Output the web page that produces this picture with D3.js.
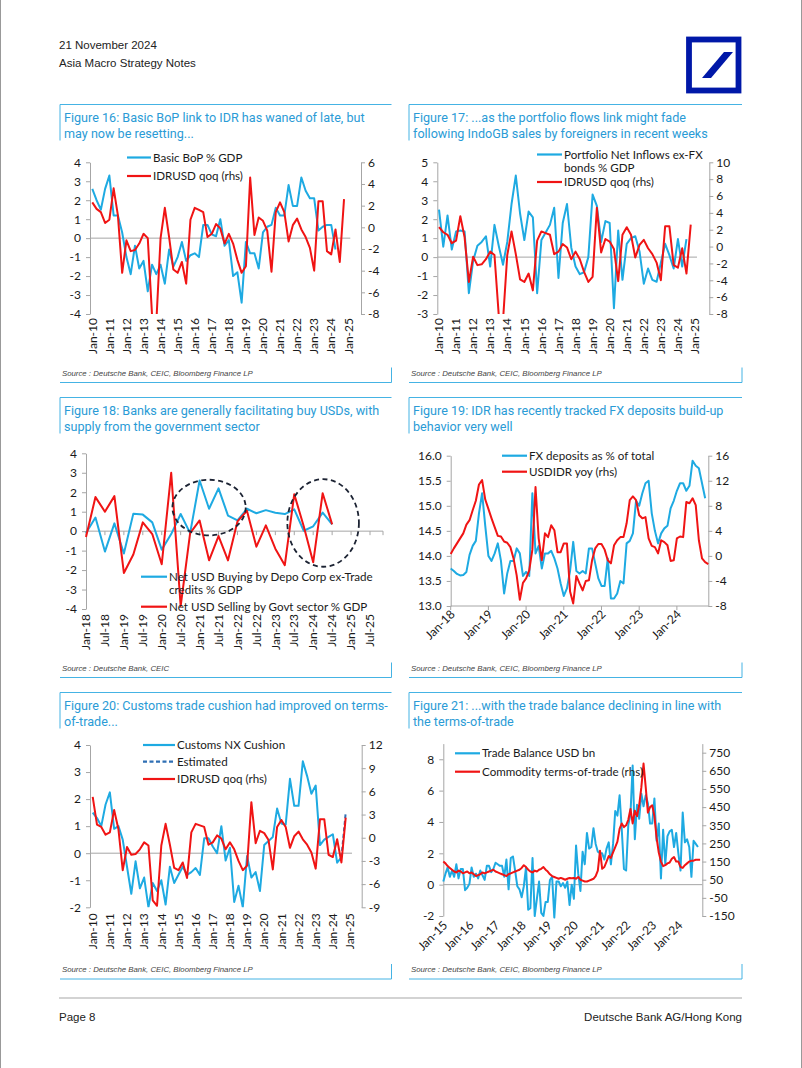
<!DOCTYPE html>
<html>
<head>
<meta charset="utf-8">
<script src="https://cdn.jsdelivr.net/npm/d3@7"></script>
<style>
  body { margin: 0; background: #fff; }
</style>
</head>
<body>
<svg id="page" width="802" height="1068"></svg>
<script>
// ---- data ----
const headerLines = ["21 November 2024", "Asia Macro Strategy Notes"];
const footerLeft = "Page 8";
const footerRight = "Deutsche Bank AG/Hong Kong";

const src1 = "Source : Deutsche Bank, CEIC, Bloomberg Finance LP";
const src2 = "Source : Deutsche Bank, CEIC";

const titles = {
  f16: ["Figure 16: Basic BoP link to IDR has waned of late, but", "may now be resetting..."],
  f17: ["Figure 17: ...as the portfolio flows link might fade", "following IndoGB sales by foreigners in recent weeks"],
  f18: ["Figure 18: Banks are generally facilitating buy USDs, with", "supply from the government sector"],
  f19: ["Figure 19: IDR has recently tracked FX deposits build-up", "behavior very well"],
  f20: ["Figure 20: Customs trade cushion had improved on terms-", "of-trade..."],
  f21: ["Figure 21: ...with the trade balance declining in line with", "the terms-of-trade"]
};

// quarterly x labels, 2010-2025
const xLabels1025 = ["Jan-10","Jan-11","Jan-12","Jan-13","Jan-14","Jan-15","Jan-16","Jan-17",
  "Jan-18","Jan-19","Jan-20","Jan-21","Jan-22","Jan-23","Jan-24","Jan-25"];
const xLabels18 = ["Jan-18","Jul-18","Jan-19","Jul-19","Jan-20","Jul-20","Jan-21","Jul-21",
  "Jan-22","Jul-22","Jan-23","Jul-23","Jan-24","Jul-24","Jan-25","Jul-25"];
const xLabels19 = ["Jan-18","Jan-19","Jan-20","Jan-21","Jan-22","Jan-23","Jan-24"];
const xLabels21 = ["Jan-15","Jan-16","Jan-17","Jan-18","Jan-19","Jan-20","Jan-21","Jan-22","Jan-23","Jan-24"];

// Fig 16: basic BoP % GDP (quarterly from Q1-10)
const basicBop = [2.6,2.0,1.5,2.6, 3.3,1.2,1.2,0.3, -1.0,-1.9,-0.4,-1.6, -1.2,-2.8,-1.4,-1.9,
  -1.4,-2.4,-0.6,-1.5, -1.0,-0.2,-1.2,-0.9, -0.8,-1.0,0.7,0.7, 0.2,0.1,1.0,-0.4,
  -0.1,-2.0,-1.8,-3.4, -0.2,-0.8,-0.8,-1.6, 0.3,0.6,0.7,1.6, 1.2,1.2,2.8,1.7,
  1.7,3.2,2.5,2.1, 2.1,0.4,0.6,0.7, 0.7,-0.6];
// IDRUSD qoq (rhs), quarterly from Q1-10
const idrQoq = [2.3,1.7,1.4,0.4, 0.7,3.6,1.1,-4.2, -1.2,-2.2,-2.1,-1.5, -0.6,-1.0,-8.1,-8.8,
  -1.0,1.8,-0.9,-3.9, -4.2,-3.2,-5.2,0.7, 1.8,1.6,1.4,-0.9, -0.6,0.3,-0.1,-1.5,
  -0.6,-1.5,-3.0,-4.2, -3.6,4.6,-0.7,0.9, 0.6,-0.3,-4.1,1.4, 2.3,1.4,-1.3,0.2,
  0.8,-0.2,-0.9,-1.9, -4.0,2.4,2.4,-2.2, -2.5,-0.2,-3.2,2.6];
const idrQoq20 = [5.3].concat(idrQoq.slice(1));

// Fig 17: portfolio net inflows ex-FX bonds % GDP
const portfolio = [2.5,0.55,2.2,0.4, 1.35,1.4,1.35,-1.9, -0.2,0.6,0.8,1.1, -0.5,1.7,0.6,-0.4,
  0.8,2.8,4.3,2.3, 0.9,2.4,2.1,-1.9, 0.9,1.3,1.7,2.6, -1.1,1.8,2.8,0.5,
  -0.5,-0.9,-0.8,0.0, 3.3,2.7,0.8,1.9, 1.8,-2.7,1.4,-1.2, 0.7,1.0,1.1,0.3,
  -1.4,-0.6,-1.2,-1.3, -0.3,0.7,0.1,-0.6, 0.95,-0.5,0.95];

// Fig 18: quarterly from Q1-18
const depoBuy = [-0.1,0.7,-1.05,0.4,-1.15,0.9,0.85,0.45,-0.95,-0.15,0.88,-0.1,2.6,1.15,2.2,0.8,
  0.55,1.15,0.92,1.08,0.95,0.88,1.12,0.02,0.25,0.95,0.35];
const govSell = [-0.3,1.75,1.0,1.8,-2.15,-1.2,0.45,-0.15,-1.7,3.0,-3.85,-0.1,0.55,-1.5,-0.25,-1.5,
  0.5,1.05,-0.8,0.3,-0.9,-1.75,1.9,0.25,-1.6,1.95,0.35];
// dashed ellipses: centre (quarter index, value), half widths
const fig18Rings = [{q: 13.0, v: 1.21, dq: 3.87, dv: 1.43}, {q: 25.05, v: 0.42, dq: 3.78, dv: 2.25}];

// Fig 19: monthly from Jan-18
const fxDepShare = [13.75,13.7,13.64,13.61,13.62,13.68,14.02,14.2,14.3,14.85,15.25,14.6,
  14.0,13.9,14.05,14.25,13.9,13.25,13.65,13.9,13.9,14.15,14.05,13.6,
  13.68,13.6,15.25,14.05,14.2,13.75,14.05,14.05,14.1,13.95,13.75,13.45,
  13.2,13.35,13.7,14.28,13.7,13.65,13.7,13.65,14.15,14.15,13.85,13.55,
  13.4,13.4,13.95,13.15,13.15,13.25,13.5,13.45,14.25,14.3,14.45,15.1,
  15.0,15.25,15.45,15.5,14.85,14.5,14.25,14.45,14.55,14.6,14.95,15.1,
  15.3,15.45,15.45,15.3,15.4,15.9,15.8,15.75,15.45,15.15];
const usdIdrYoy = [0.3,1.2,2.0,2.8,3.6,5.0,5.7,7.3,8.8,11.4,12.1,9.0,
  7.5,6.0,4.6,3.2,3.1,2.3,2.1,1.4,-0.4,-3.1,-7.0,-4.3,
  -3.6,-2.3,1.0,11.0,2.8,-0.7,3.6,3.0,4.9,4.1,0.6,0.6,
  2.0,2.0,-5.7,-7.6,-3.2,-4.4,-5.5,-4.0,-3.9,-0.7,1.2,1.9,
  1.9,1.0,-0.7,-1.2,1.7,2.5,3.0,3.0,5.2,8.9,9.5,8.9,
  6.5,6.0,6.2,2.8,1.6,1.4,0.4,2.5,2.2,1.7,-0.8,-0.7,
  2.8,3.1,3.0,8.6,8.4,9.2,8.1,2.5,-0.4,-1.0,-1.3];

// Fig 20: customs NX cushion, quarterly from Q1-10, plus estimate
const customsNx = [1.5,1.3,1.0,1.8, 2.25,0.9,1.0,0.5, -0.5,-1.5,-0.3,-1.3, -0.9,-2.0,-1.1,-1.4,
  -1.0,-1.9,-0.5,-1.1, -0.8,-0.5,-0.8,-0.7, -0.55,-0.8,0.55,0.55, 0.25,0.0,1.0,-0.27,
  0.2,-1.8,-1.2,-2.0, -0.1,-0.9,-0.7,-1.4, 0.3,0.45,0.6,1.65, 1.1,1.05,2.75,1.75,
  1.75,3.4,2.85,2.2, 2.5,0.3,0.5,0.6, 0.7,-0.35,-0.15];
const customsEstStart = 58;
const customsEst = [-0.15, 1.5];

// Fig 21: monthly from Jan-15
const tradeBal = [0.2,0.7,1.1,0.5,0.9,0.5,1.3,0.4,1.0,1.0,-0.35,-0.2,
  0.05,1.1,0.5,0.7,0.4,0.9,0.6,0.3,1.2,1.2,0.8,1.0,
  1.4,1.3,1.2,1.2,0.5,1.6,-0.3,1.7,1.8,0.9,-0.1,-0.3,
  -0.8,-0.1,1.1,-1.6,-1.5,1.7,-2.0,-0.9,0.2,-1.8,-2.0,-1.1,
  -1.1,0.3,0.5,-2.1,0.2,0.2,-0.1,0.1,-0.2,0.2,-1.3,0.0,
  -0.9,2.5,0.7,-0.4,2.1,1.3,3.3,2.3,2.4,3.6,2.6,2.1,
  2.0,2.0,1.6,2.3,2.7,1.3,2.6,4.7,4.4,5.7,3.5,1.0,
  0.9,3.8,4.5,7.6,2.9,5.1,4.2,5.8,5.0,5.7,5.2,3.9,
  3.9,5.5,2.8,3.9,0.4,3.5,1.3,3.1,3.4,3.5,2.4,3.3,
  2.0,0.9,4.6,2.7,2.9,2.4,0.5,2.8,2.6,2.4];
const commodityTot = [150,140,125,115,105,95,90,100,95,85,90,95,
  85,90,80,70,75,80,90,85,90,95,100,105,
  95,90,85,80,75,70,80,85,90,95,100,105,
  115,130,120,105,95,90,100,95,105,110,120,105,
  95,80,70,65,60,55,60,55,50,55,60,58,
  60,55,65,50,45,40,40,45,50,55,70,100,
  210,110,120,150,180,170,200,230,260,330,360,340,
  350,380,440,360,430,400,460,560,690,560,420,450,
  460,400,280,200,150,125,130,140,145,165,175,150,
  150,120,115,130,140,150,155,155,160,160,160];

// ---- styles ----
const BLUE = "#1eaae2", RED = "#f01414", EST = "#2f6fb4", AXIS = "#a6a6a6";
const TITLE = "#2a9bd6", FRAME = "#45b3e4";
const FONT = "Lato, 'Open Sans', sans-serif";
const TFONT = "Roboto, 'Liberation Sans', sans-serif";
const NFONT = "'Liberation Sans Narrow', 'Liberation Sans', sans-serif";

const svg = d3.select("#page");

// page edges
svg.append("line").attr("x1", 0.5).attr("x2", 0.5).attr("y1", 0).attr("y2", 1068).attr("stroke", "#999");
svg.append("line").attr("x1", 801.5).attr("x2", 801.5).attr("y1", 0).attr("y2", 1068).attr("stroke", "#999");

// header
headerLines.forEach((t, i) => {
  svg.append("text").attr("x", 59).attr("y", 49 + i * 18).attr("font-family", NFONT)
    .attr("font-size", 11.5).attr("fill", "#222").text(t);
});
// logo
svg.append("rect").attr("x", 689).attr("y", 39.5).attr("width", 49.5).attr("height", 51)
  .attr("fill", "none").attr("stroke", "#0018a8").attr("stroke-width", 5.8);
svg.append("polygon").attr("points", "724,52 733,52 711,78 702,78").attr("fill", "#0018a8");

// footer
svg.append("line").attr("x1", 59).attr("x2", 742).attr("y1", 998).attr("y2", 998)
  .attr("stroke", "#c4c4c4").attr("stroke-width", 1.5);
svg.append("text").attr("x", 59).attr("y", 1021).attr("font-family", NFONT).attr("font-size", 11.5)
  .attr("fill", "#222").text(footerLeft);
svg.append("text").attr("x", 742).attr("y", 1021).attr("text-anchor", "end").attr("font-family", NFONT)
  .attr("font-size", 11.5).attr("fill", "#222").text(footerRight);

// panel frame with title and source
function panel(x0, x1, yTop, yBot, lines, source) {
  const g = svg.append("g");
  g.append("line").attr("x1", x0).attr("x2", x1).attr("y1", yTop).attr("y2", yTop).attr("stroke", FRAME);
  g.append("line").attr("x1", x0).attr("x2", x0).attr("y1", yTop).attr("y2", yTop + 36).attr("stroke", FRAME);
  lines.forEach((t, i) => {
    g.append("text").attr("x", x0 + 4).attr("y", yTop + 17 + i * 16).attr("font-family", TFONT)
      .attr("font-size", 12.6).attr("fill", TITLE).text(t);
  });
  g.append("text").attr("x", x0 + 2).attr("y", yBot - 7).attr("font-family", "'Liberation Sans', Arial, sans-serif")
    .attr("font-style", "italic").attr("font-size", 7.8).attr("fill", "#444").text(source);
  g.append("line").attr("x1", x0).attr("x2", x1).attr("y1", yBot).attr("y2", yBot).attr("stroke", FRAME);
  g.append("line").attr("x1", x1).attr("x2", x1).attr("y1", yBot - 15).attr("y2", yBot).attr("stroke", FRAME);
}

function styleAxis(a) {
  a.select(".domain").attr("stroke", AXIS);
  a.selectAll(".tick line").attr("stroke", AXIS);
  a.selectAll(".tick text").attr("fill", "#1a1a1a").attr("font-size", 12).attr("font-family", FONT);
}

function yAxis(g, scale, x, vals, side, fmt) {
  const ax = (side === "left" ? d3.axisLeft(scale) : d3.axisRight(scale))
    .tickValues(vals).tickSize(4).tickSizeOuter(0).tickPadding(side === "left" ? 5 : 3)
    .tickFormat(fmt || (d => String(d)));
  const a = g.append("g").attr("transform", `translate(${x},0)`).call(ax);
  styleAxis(a);
}

function vLabels(g, labels, xf, yTop) {
  g.selectAll(null).data(labels).join("text")
    .attr("transform", (d, i) => `translate(${xf(i)},${yTop}) rotate(-90)`)
    .attr("dy", "0.35em").attr("text-anchor", "end")
    .attr("font-family", FONT).attr("font-size", 12).attr("fill", "#1a1a1a").text(d => d);
}

function slantLabels(g, labels, xf, y) {
  g.selectAll(null).data(labels).join("text")
    .attr("transform", (d, i) => `translate(${xf(i) + 2},${y}) rotate(-45)`)
    .attr("dy", "0.35em").attr("text-anchor", "end")
    .attr("font-family", FONT).attr("font-size", 12).attr("fill", "#1a1a1a").text(d => d);
}

function legend(g, items) {
  items.forEach(it => {
    g.append("line").attr("x1", it.x).attr("x2", it.x + it.w).attr("y1", it.y).attr("y2", it.y)
      .attr("stroke", it.color).attr("stroke-width", 2.2).attr("stroke-dasharray", it.dash || null);
    it.text.forEach((t, k) => {
      g.append("text").attr("x", it.x + it.w + 2).attr("y", it.y + 4 + k * 13.3)
        .attr("font-family", FONT).attr("font-size", 11.6).attr("fill", "#1a1a1a").text(t);
    });
  });
}

function series(g, data, xf, y, color, dash) {
  g.append("path").datum(data)
    .attr("d", d3.line().x((d, i) => xf(i)).y(d => y(d)))
    .attr("fill", "none").attr("stroke", color).attr("stroke-width", 2)
    .attr("stroke-linejoin", "round").attr("stroke-dasharray", dash || null);
}

// quarterly dual-axis chart (figs 16, 17, 20)
function quarterly(o) {
  const g = svg.append("g");
  const x = d3.scaleLinear().domain([2010, 2025]).range([o.x0, o.x1]);
  const yL = d3.scaleLinear().domain(o.lDom).range([o.yB, o.yT]);
  const yR = d3.scaleLinear().domain(o.rDom).range([o.yB, o.yT]);
  svg.append("clipPath").attr("id", o.id).append("rect")
    .attr("x", o.axL).attr("y", o.yT).attr("width", o.axR - o.axL).attr("height", o.yB - o.yT);

  g.append("line").attr("x1", o.axL).attr("x2", x(2025) + 2).attr("y1", yL(0)).attr("y2", yL(0)).attr("stroke", AXIS);
  yAxis(g, yL, o.axL, o.lTicks, "left");
  yAxis(g, yR, o.axR, o.rTicks, "right");
  vLabels(g, xLabels1025, i => x(2010 + i), o.labY);

  const plot = g.append("g").attr("clip-path", `url(#${o.id})`);
  series(plot, o.blue, i => x(2010 + i / 4), yL, BLUE);
  if (o.est) series(plot, o.est, i => x(2010 + (o.estStart + i) / 4), yL, EST, "4,2.5");
  series(plot, o.red, i => x(2010 + i / 4), yR, RED);
  legend(g, o.legend);
}

// ---- Figure 16 ----
panel(60, 391.5, 104.5, 382.5, titles.f16, src1);
quarterly({
  id: "c16", x0: 92.3, x1: 348.3, axL: 90, axR: 361, yT: 162.3, yB: 314,
  lDom: [-4, 4], lTicks: [-4,-3,-2,-1,0,1,2,3,4], rDom: [-8, 6], rTicks: [-8,-6,-4,-2,0,2,4,6],
  labY: 318, blue: basicBop, red: idrQoq,
  legend: [{x: 127, w: 24, y: 157.5, color: BLUE, text: ["Basic BoP % GDP"]},
           {x: 127, w: 24, y: 176, color: RED, text: ["IDRUSD qoq (rhs)"]}]
});

// ---- Figure 17 ----
panel(409, 742, 104.5, 382.5, titles.f17, src1);
quarterly({
  id: "c17", x0: 439, x1: 695, axL: 437.3, axR: 709.3, yT: 162.3, yB: 314,
  lDom: [-3, 5], lTicks: [-3,-2,-1,0,1,2,3,4,5], rDom: [-8, 10], rTicks: [-8,-6,-4,-2,0,2,4,6,8,10],
  labY: 318, blue: portfolio, red: idrQoq,
  legend: [{x: 537, w: 25, y: 154.5, color: BLUE, text: ["Portfolio Net Inflows ex-FX", "bonds % GDP"]},
           {x: 537, w: 25, y: 182, color: RED, text: ["IDRUSD qoq (rhs)"]}]
});

// ---- Figure 18 ----
panel(60, 391.5, 397.5, 677.5, titles.f18, src2);
(function () {
  const g = svg.append("g");
  const x = d3.scaleLinear().domain([0, 30]).range([86, 370]);
  const y = d3.scaleLinear().domain([-4, 4]).range([609, 453.3]);
  g.append("line").attr("x1", 86).attr("x2", 383).attr("y1", y(0)).attr("y2", y(0)).attr("stroke", AXIS);
  g.selectAll(null).data(xLabels18).join("line")
    .attr("x1", (d, i) => x(i * 2)).attr("x2", (d, i) => x(i * 2))
    .attr("y1", y(0)).attr("y2", y(0) + 4).attr("stroke", AXIS);
  g.append("line").attr("x1", 383).attr("x2", 383).attr("y1", y(0)).attr("y2", y(0) + 4).attr("stroke", AXIS);
  yAxis(g, y, 86, [-4,-3,-2,-1,0,1,2,3,4], "left");
  vLabels(g, xLabels18, i => x(i * 2), 614);
  series(g, depoBuy, x, y, BLUE);
  series(g, govSell, x, y, RED);
  legend(g, [{x: 141, w: 26, y: 576.7, color: BLUE, text: ["Net USD Buying by Depo Corp ex-Trade", "credits % GDP"]},
             {x: 141, w: 26, y: 606.7, color: RED, text: ["Net USD Selling by Govt sector % GDP"]}]);
  g.selectAll(null).data(fig18Rings).join("ellipse")
    .attr("cx", d => x(d.q)).attr("cy", d => y(d.v))
    .attr("rx", d => x(d.dq) - x(0)).attr("ry", d => y(0) - y(d.dv))
    .attr("fill", "none").attr("stroke", "#1c2333").attr("stroke-width", 1.8).attr("stroke-dasharray", "5,3.5");
})();

// ---- Figure 19 ----
panel(409, 742, 397.5, 677.5, titles.f19, src1);
(function () {
  const g = svg.append("g");
  const x = d3.scaleLinear().domain([0, 82]).range([450.7, 708.3]);
  const yL = d3.scaleLinear().domain([13, 16]).range([606, 455.7]);
  const yR = d3.scaleLinear().domain([-8, 16]).range([606, 455.7]);
  g.append("line").attr("x1", 450.7).attr("x2", 708.3).attr("y1", 606).attr("y2", 606).attr("stroke", AXIS);
  g.selectAll(null).data(xLabels19).join("line")
    .attr("x1", (d, i) => x(i * 12)).attr("x2", (d, i) => x(i * 12))
    .attr("y1", 606).attr("y2", 610).attr("stroke", AXIS);
  yAxis(g, yL, 450.7, [13, 13.5, 14, 14.5, 15, 15.5, 16], "left", d => d.toFixed(1));
  yAxis(g, yR, 708.3, [-8, -4, 0, 4, 8, 12, 16], "right");
  slantLabels(g, xLabels19, i => x(i * 12), 612);
  series(g, fxDepShare, x, yL, BLUE);
  series(g, usdIdrYoy, x, yR, RED);
  legend(g, [{x: 502, w: 25, y: 455.7, color: BLUE, text: ["FX deposits as % of total"]},
             {x: 502, w: 25, y: 471.7, color: RED, text: ["USDIDR yoy (rhs)"]}]);
})();

// ---- Figure 20 ----
panel(60, 391.5, 692.5, 979, titles.f20, src1);
quarterly({
  id: "c20", x0: 92.7, x1: 350, axL: 90, axR: 361.7, yT: 745, yB: 907.3,
  lDom: [-2, 4], lTicks: [-2,-1,0,1,2,3,4], rDom: [-9, 12], rTicks: [-9,-6,-3,0,3,6,9,12],
  labY: 913.3, blue: customsNx, red: idrQoq20, est: customsEst, estStart: customsEstStart,
  legend: [{x: 143, w: 32, y: 745, color: BLUE, text: ["Customs NX Cushion"]},
           {x: 143, w: 32, y: 761.7, color: EST, dash: "4,2.5", text: ["Estimated"]},
           {x: 143, w: 32, y: 779, color: RED, text: ["IDRUSD qoq (rhs)"]}]
});

// ---- Figure 21 ----
panel(409, 742, 692.5, 979, titles.f21, src1);
(function () {
  const g = svg.append("g");
  const x = d3.scaleLinear().domain([0, 119]).range([443.3, 702.3]);
  const yL = d3.scaleLinear().domain([-2, 9]).range([916, 743.6]);
  const yR = d3.scaleLinear().domain([-150, 800]).range([916, 743.6]);
  g.append("line").attr("x1", 443.3).attr("x2", 702.3).attr("y1", yL(0)).attr("y2", yL(0)).attr("stroke", AXIS);
  yAxis(g, yL, 443.3, [-2, 0, 2, 4, 6, 8], "left");
  yAxis(g, yR, 702.3, [-150, -50, 50, 150, 250, 350, 450, 550, 650, 750], "right");
  slantLabels(g, xLabels21, i => x(i * 12), 923);
  series(g, tradeBal, x, yL, BLUE);
  series(g, commodityTot, x, yR, RED);
  legend(g, [{x: 455, w: 25, y: 753.3, color: BLUE, text: ["Trade Balance USD bn"]},
             {x: 455, w: 25, y: 771.7, color: RED, text: ["Commodity terms-of-trade (rhs)"]}]);
})();
</script>
</body>
</html>
